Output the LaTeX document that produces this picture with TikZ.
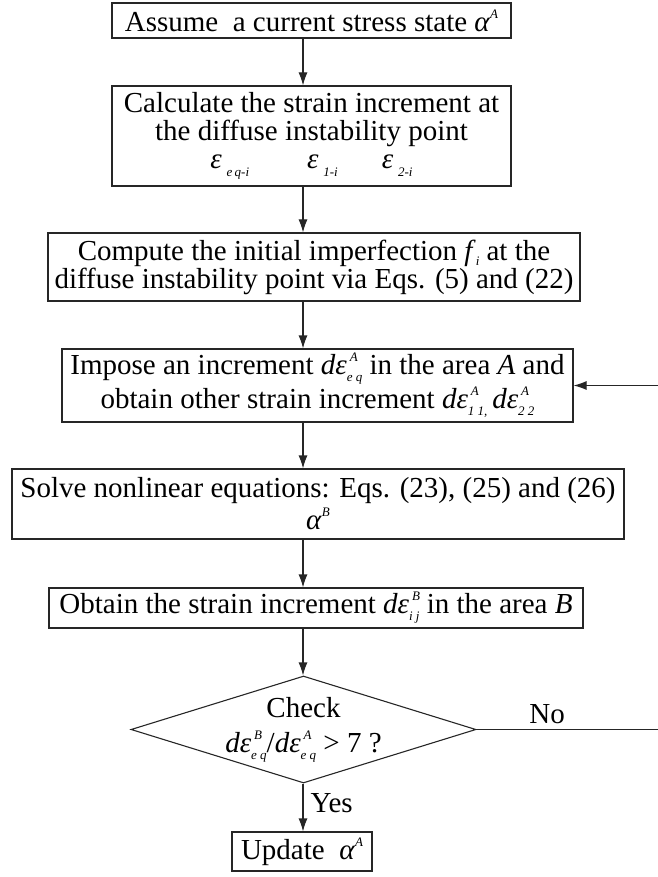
\documentclass[tikz,border=0pt]{standalone}
\usepackage{fontspec}
\setmainfont{Liberation Serif}
\usetikzlibrary{arrows.meta,shapes.geometric}
\newcommand\smallit{\fontsize{13}{13}\selectfont\itshape}
\newcommand\supsub[2]{\makebox[0pt][l]{\hspace{3pt}\raisebox{13pt}{\smallit #1}}\raisebox{-7pt}{\smallit #2}}
\newcommand\supon[1]{\raisebox{13pt}{\smallit #1}}
\newcommand\subon[1]{\,\raisebox{-8pt}{\smallit #1}}
\begin{document}
\begin{tikzpicture}[x=1pt,y=-1pt,
  box/.style={draw=black!85,line width=1.1pt,inner sep=0pt,align=center,font=\fontsize{29}{28}\selectfont},
  lbl/.style={font=\fontsize{29}{28}\selectfont,inner sep=0pt,align=center},
  arr/.style={-{Latex[length=13pt,width=9pt]},line width=1.1pt,draw=black!85}]
\useasboundingbox (0,0) rectangle (657,877);
\coordinate (ax) at (303,0);
\coordinate (loop) at (720,0);
\node[box,minimum width=399pt,minimum height=35pt] (b1) at (311.5,20.5)
  {Assume\ \ a current stress state \textit{α}\supon{A}};
\node[box,minimum width=399pt,minimum height=100pt] (b2) at (311.5,136)
  {Calculate the strain increment at\\the diffuse instability point\\[0pt]
   \textit{ε}\subon{e\,q-i}\hspace{58pt}\textit{ε}\subon{1-i}\hspace{44pt}\textit{ε}\subon{2-i}};
\node[box,minimum width=532pt,minimum height=68pt] (b3) at (314,267)
  {Compute the initial imperfection \textit{f}\raisebox{-5pt}{\smallit i} at the\\diffuse instability point via Eqs. (5) and (22)};
\node[box,minimum width=511pt,minimum height=73pt] (b4) at (317.5,385.5)
  {Impose an increment \textit{dε}\supsub{A}{e q} in the area \textit{A} and\\[2pt]
   obtain other strain increment \textit{dε}\supsub{A}{1 1,}\,\textit{dε}\supsub{A}{2 2}};
\node[box,minimum width=612pt,minimum height=70pt] (b5) at (318,504)
  {Solve nonlinear equations: Eqs. (23), (25) and (26)\\[4pt]\textit{α}\supon{B}};
\node[box,minimum width=534pt,minimum height=40pt] (b6) at (316,608)
  {Obtain the strain increment \textit{dε}\supsub{B}{i j} in the area \textit{B}};
\node[diamond,draw=black!85,line width=1.1pt,inner sep=0pt,minimum width=345pt,minimum height=107pt] (dia) at (303.5,729.5) {};
\node[lbl] (dtxt) at (303.5,730) {Check\\[7pt]\textit{dε}\supsub{B}{e q}/\textit{dε}\supsub{A}{e q} > 7 ?};
\node[box,minimum width=140pt,minimum height=39pt] (b7) at (302,851.5)
  {Update\ \ \textit{α}\supon{A}};
\draw[arr] (b1.south -| ax) -- (b2.north -| ax);
\draw[arr] (b2.south -| ax) -- (b3.north -| ax);
\draw[arr] (b3.south -| ax) -- (b4.north -| ax);
\draw[arr] (b4.south -| ax) -- (b5.north -| ax);
\draw[arr] (b5.south -| ax) -- (b6.north -| ax);
\draw[arr] (b6.south -| ax) -- (dia.north -| ax);
\draw[arr] (dia.south -| ax) -- node[lbl,right=7pt,pos=0.4] (yes) {Yes} (b7.north -| ax);
\draw[arr] (dia.east) -- node[lbl,above=5pt,pos=0.29] (no) {No} (dia.east -| loop) |- (b4.east);
\end{tikzpicture}
\end{document}
